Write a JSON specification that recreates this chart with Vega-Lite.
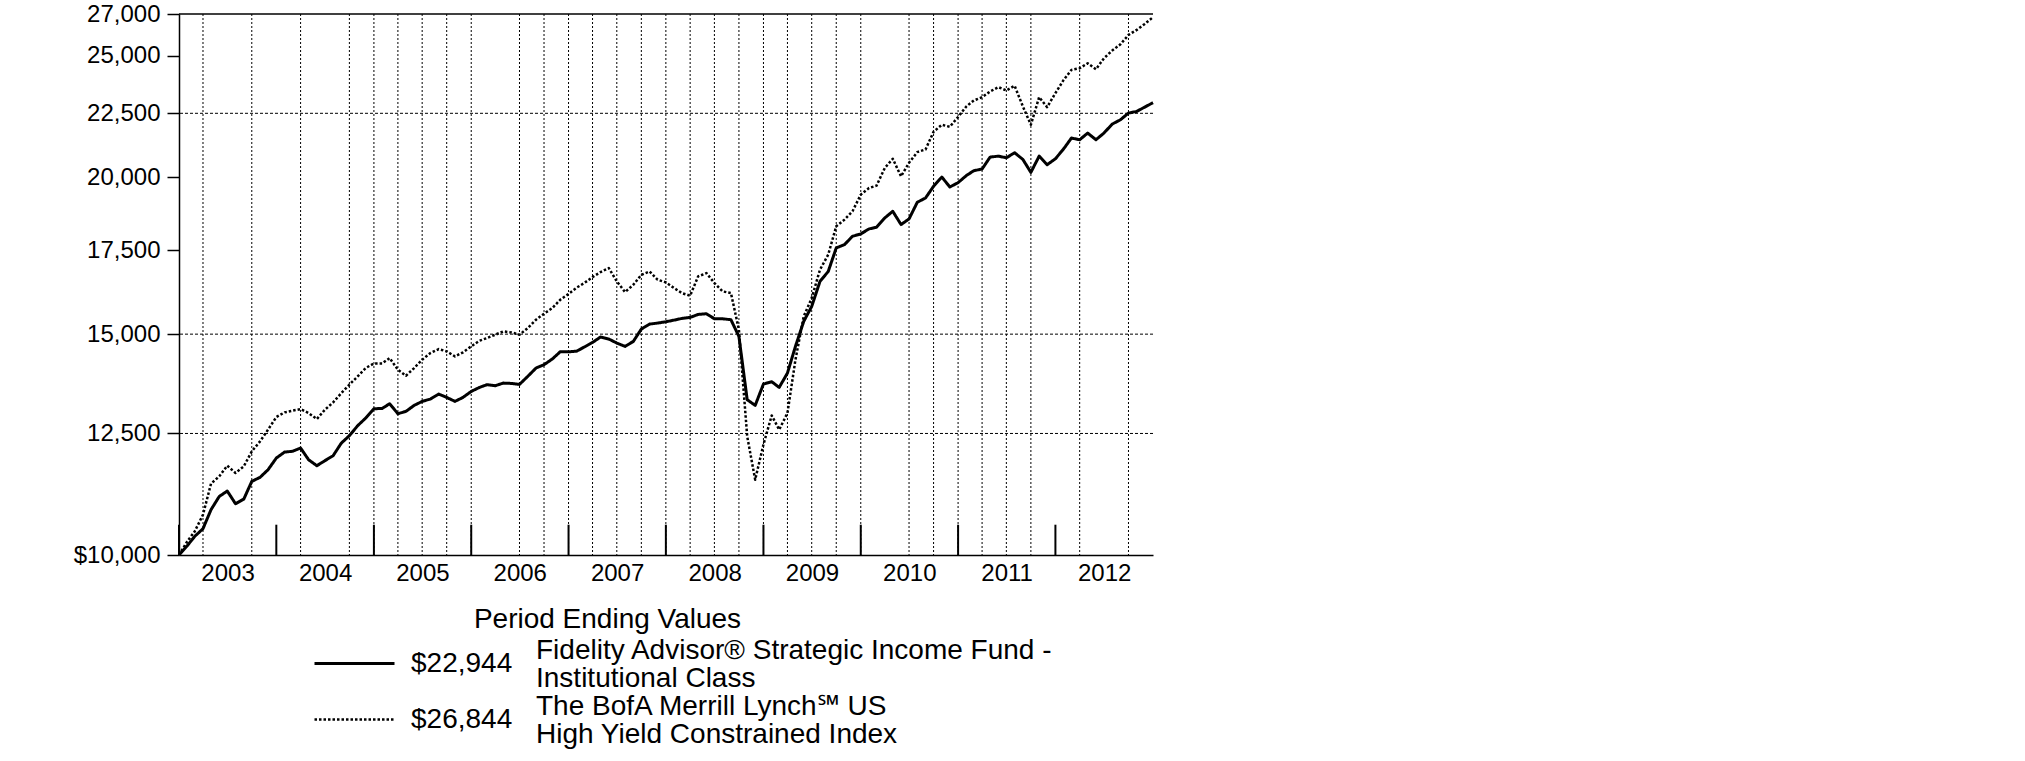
{
  "$schema": "https://vega.github.io/schema/vega-lite/v6.json",
  "width": 974,
  "height": 541,
  "autosize": "none",
  "padding": {"left": 179, "top": 14, "right": 872, "bottom": 206},
  "background": "white",
  "config": {
    "font": "Liberation Sans",
    "view": {"stroke": null},
    "legend": {"labelFont": "Liberation Sans", "labelFontSize": 28, "labelColor": "black", "labelLimit": 1000, "padding": 0}
  },
  "datasets": {
    "meta": [
      {"series": "fund", "name": "Fidelity Advisor® Strategic  Income Fund - Institutional Class", "ending": "$22,944"},
      {"series": "index", "name": "The BofA Merrill Lynch℠ US High Yield Constrained Index", "ending": "$26,844"}
    ],
    "grid": [
      {"date": "2003-03-31"}, {"date": "2003-09-30"}, {"date": "2004-03-31"}, {"date": "2004-09-30"},
      {"date": "2004-12-31"}, {"date": "2005-03-31"}, {"date": "2005-06-30"}, {"date": "2005-09-30"},
      {"date": "2005-12-31"}, {"date": "2006-06-30"}, {"date": "2006-09-30"}, {"date": "2006-12-31"},
      {"date": "2007-03-31"}, {"date": "2007-06-30"}, {"date": "2007-09-30"}, {"date": "2007-12-31"},
      {"date": "2008-03-31"}, {"date": "2008-06-30"}, {"date": "2008-09-30"}, {"date": "2008-12-31"},
      {"date": "2009-03-31"}, {"date": "2009-06-30"}, {"date": "2009-09-30"}, {"date": "2009-12-31"},
      {"date": "2010-06-30"}, {"date": "2010-09-30"}, {"date": "2010-12-31"}, {"date": "2011-03-31"},
      {"date": "2011-06-30"}, {"date": "2011-09-30"}, {"date": "2012-03-31"}, {"date": "2012-09-30"}
    ],
    "yearticks": [
      {"date": "2002-12-31"}, {"date": "2003-12-31"}, {"date": "2004-12-31"}, {"date": "2005-12-31"},
      {"date": "2006-12-31"}, {"date": "2007-12-31"}, {"date": "2008-12-31"}, {"date": "2009-12-31"},
      {"date": "2010-12-31"}, {"date": "2011-12-31"}
    ],
    "hgrid": [{"value": 12500}, {"value": 15000}, {"value": 22500}],
    "frame": [{"value": 27000}],
    "perf": [
      {"date": "2002-12-31", "fund": 10000, "index": 10000},
      {"date": "2003-01-31", "fund": 10172, "index": 10253},
      {"date": "2003-02-28", "fund": 10348, "index": 10443},
      {"date": "2003-03-31", "fund": 10495, "index": 10768},
      {"date": "2003-04-30", "fund": 10867, "index": 11399},
      {"date": "2003-05-31", "fund": 11135, "index": 11553},
      {"date": "2003-06-30", "fund": 11246, "index": 11781},
      {"date": "2003-07-31", "fund": 10987, "index": 11625},
      {"date": "2003-08-31", "fund": 11081, "index": 11767},
      {"date": "2003-09-30", "fund": 11447, "index": 12096},
      {"date": "2003-10-31", "fund": 11532, "index": 12320},
      {"date": "2003-11-30", "fund": 11695, "index": 12587},
      {"date": "2003-12-31", "fund": 11948, "index": 12882},
      {"date": "2004-01-31", "fund": 12081, "index": 12993},
      {"date": "2004-02-29", "fund": 12096, "index": 13032},
      {"date": "2004-03-31", "fund": 12170, "index": 13072},
      {"date": "2004-04-30", "fund": 11912, "index": 12977},
      {"date": "2004-05-31", "fund": 11781, "index": 12835},
      {"date": "2004-06-30", "fund": 11890, "index": 13056},
      {"date": "2004-07-31", "fund": 12000, "index": 13234},
      {"date": "2004-08-31", "fund": 12282, "index": 13462},
      {"date": "2004-09-30", "fund": 12449, "index": 13670},
      {"date": "2004-10-31", "fund": 12679, "index": 13881},
      {"date": "2004-11-30", "fund": 12857, "index": 14095},
      {"date": "2004-12-31", "fund": 13080, "index": 14215},
      {"date": "2005-01-31", "fund": 13088, "index": 14215},
      {"date": "2005-02-28", "fund": 13201, "index": 14356},
      {"date": "2005-03-31", "fund": 12961, "index": 14052},
      {"date": "2005-04-30", "fund": 13017, "index": 13898},
      {"date": "2005-05-31", "fund": 13161, "index": 14095},
      {"date": "2005-06-30", "fund": 13258, "index": 14312},
      {"date": "2005-07-31", "fund": 13315, "index": 14488},
      {"date": "2005-08-31", "fund": 13437, "index": 14595},
      {"date": "2005-09-30", "fund": 13355, "index": 14533},
      {"date": "2005-10-31", "fund": 13258, "index": 14400},
      {"date": "2005-11-30", "fund": 13355, "index": 14506},
      {"date": "2005-12-31", "fund": 13503, "index": 14667},
      {"date": "2006-01-31", "fund": 13603, "index": 14820},
      {"date": "2006-02-28", "fund": 13670, "index": 14893},
      {"date": "2006-03-31", "fund": 13645, "index": 14984},
      {"date": "2006-04-30", "fund": 13711, "index": 15076},
      {"date": "2006-05-31", "fund": 13703, "index": 15048},
      {"date": "2006-06-30", "fund": 13678, "index": 14984},
      {"date": "2006-07-31", "fund": 13881, "index": 15168},
      {"date": "2006-08-31", "fund": 14095, "index": 15402},
      {"date": "2006-09-30", "fund": 14182, "index": 15573},
      {"date": "2006-10-31", "fund": 14330, "index": 15736},
      {"date": "2006-11-30", "fund": 14524, "index": 15979},
      {"date": "2006-12-31", "fund": 14520, "index": 16150},
      {"date": "2007-01-31", "fund": 14540, "index": 16340},
      {"date": "2007-02-28", "fund": 14649, "index": 16475},
      {"date": "2007-03-31", "fund": 14775, "index": 16657},
      {"date": "2007-04-30", "fund": 14920, "index": 16811},
      {"date": "2007-05-31", "fund": 14866, "index": 16935},
      {"date": "2007-06-30", "fund": 14757, "index": 16525},
      {"date": "2007-07-31", "fund": 14667, "index": 16205},
      {"date": "2007-08-31", "fund": 14802, "index": 16424},
      {"date": "2007-09-30", "fund": 15140, "index": 16728},
      {"date": "2007-10-31", "fund": 15280, "index": 16831},
      {"date": "2007-11-30", "fund": 15308, "index": 16576},
      {"date": "2007-12-31", "fund": 15345, "index": 16495},
      {"date": "2008-01-31", "fund": 15392, "index": 16324},
      {"date": "2008-02-29", "fund": 15439, "index": 16175},
      {"date": "2008-03-31", "fund": 15468, "index": 16097},
      {"date": "2008-04-30", "fund": 15553, "index": 16678},
      {"date": "2008-05-31", "fund": 15573, "index": 16780},
      {"date": "2008-06-30", "fund": 15430, "index": 16475},
      {"date": "2008-07-31", "fund": 15430, "index": 16225},
      {"date": "2008-08-31", "fund": 15402, "index": 16175},
      {"date": "2008-09-30", "fund": 14938, "index": 15121},
      {"date": "2008-10-31", "fund": 13299, "index": 12434},
      {"date": "2008-11-30", "fund": 13161, "index": 11482},
      {"date": "2008-12-31", "fund": 13687, "index": 12250},
      {"date": "2009-01-31", "fund": 13745, "index": 12920},
      {"date": "2009-02-28", "fund": 13603, "index": 12587},
      {"date": "2009-03-31", "fund": 13966, "index": 12977},
      {"date": "2009-04-30", "fund": 14667, "index": 14312},
      {"date": "2009-05-31", "fund": 15355, "index": 15497},
      {"date": "2009-06-30", "fund": 15784, "index": 16028},
      {"date": "2009-07-31", "fund": 16525, "index": 16884},
      {"date": "2009-08-31", "fund": 16831, "index": 17360},
      {"date": "2009-09-30", "fund": 17573, "index": 18286},
      {"date": "2009-10-31", "fund": 17681, "index": 18511},
      {"date": "2009-11-30", "fund": 17953, "index": 18796},
      {"date": "2009-12-31", "fund": 18031, "index": 19379},
      {"date": "2010-01-31", "fund": 18197, "index": 19617},
      {"date": "2010-02-28", "fund": 18253, "index": 19701},
      {"date": "2010-03-31", "fund": 18568, "index": 20350},
      {"date": "2010-04-30", "fund": 18796, "index": 20698},
      {"date": "2010-05-31", "fund": 18343, "index": 20040},
      {"date": "2010-06-30", "fund": 18534, "index": 20547},
      {"date": "2010-07-31", "fund": 19109, "index": 20953},
      {"date": "2010-08-31", "fund": 19262, "index": 21055},
      {"date": "2010-09-30", "fund": 19677, "index": 21750},
      {"date": "2010-10-31", "fund": 20015, "index": 22030},
      {"date": "2010-11-30", "fund": 19653, "index": 21950},
      {"date": "2010-12-31", "fund": 19810, "index": 22350},
      {"date": "2011-01-31", "fund": 20070, "index": 22786},
      {"date": "2011-02-28", "fund": 20250, "index": 23036},
      {"date": "2011-03-31", "fund": 20312, "index": 23178},
      {"date": "2011-04-30", "fund": 20761, "index": 23420},
      {"date": "2011-05-31", "fund": 20799, "index": 23607},
      {"date": "2011-06-30", "fund": 20735, "index": 23463},
      {"date": "2011-07-31", "fund": 20928, "index": 23665},
      {"date": "2011-08-31", "fund": 20672, "index": 22786},
      {"date": "2011-09-30", "fund": 20188, "index": 22032},
      {"date": "2011-10-31", "fund": 20799, "index": 23178},
      {"date": "2011-11-30", "fund": 20474, "index": 22758},
      {"date": "2011-12-31", "fund": 20698, "index": 23349},
      {"date": "2012-01-31", "fund": 21080, "index": 23924},
      {"date": "2012-02-29", "fund": 21500, "index": 24366},
      {"date": "2012-03-31", "fund": 21434, "index": 24441},
      {"date": "2012-04-30", "fund": 21698, "index": 24666},
      {"date": "2012-05-31", "fund": 21434, "index": 24396},
      {"date": "2012-06-30", "fund": 21698, "index": 24893},
      {"date": "2012-07-31", "fund": 22059, "index": 25246},
      {"date": "2012-08-31", "fund": 22235, "index": 25541},
      {"date": "2012-09-30", "fund": 22509, "index": 25982},
      {"date": "2012-10-31", "fund": 22578, "index": 26222},
      {"date": "2012-11-30", "fund": 22758, "index": 26512},
      {"date": "2012-12-31", "fund": 22944, "index": 26844}
    ]
  },
  "layer": [
    {
      "data": {"name": "grid"},
      "mark": {"type": "rule", "color": "black", "strokeWidth": 1, "strokeDash": [2, 2]},
      "encoding": {
        "x": {"field": "date", "type": "temporal", "scale": {"type": "utc", "domain": [{"year": 2002, "month": 12, "date": 31, "utc": true}, {"year": 2012, "month": 12, "date": 31, "utc": true}], "nice": false}}
      }
    },
    {
      "data": {"name": "hgrid"},
      "mark": {"type": "rule", "color": "black", "strokeWidth": 1, "strokeDash": [3, 2]},
      "encoding": {
        "y": {"field": "value", "type": "quantitative", "scale": {"type": "log", "domain": [10000, 27000], "nice": false}}
      }
    },
    {
      "data": {"name": "frame"},
      "mark": {"type": "rule", "color": "black", "strokeWidth": 1.5},
      "encoding": {
        "y": {"field": "value", "type": "quantitative", "scale": {"type": "log", "domain": [10000, 27000], "nice": false}}
      }
    },
    {
      "data": {"name": "yearticks"},
      "mark": {"type": "rule", "color": "black", "strokeWidth": 2},
      "encoding": {
        "x": {"field": "date", "type": "temporal", "scale": {"type": "utc", "domain": [{"year": 2002, "month": 12, "date": 31, "utc": true}, {"year": 2012, "month": 12, "date": 31, "utc": true}], "nice": false}},
        "y": {"datum": 10000, "type": "quantitative", "scale": {"type": "log", "domain": [10000, 27000], "nice": false}},
        "y2": {"datum": 10572}
      }
    },
    {
      "data": {"name": "perf"},
      "transform": [
        {"fold": ["fund", "index"], "as": ["series", "value"]},
        {"lookup": "series", "from": {"data": {"name": "meta"}, "key": "series", "fields": ["name", "ending"]}}
      ],
      "mark": {"type": "line", "interpolate": "linear", "strokeJoin": "round"},
      "encoding": {
        "x": {
          "field": "date", "type": "temporal",
          "scale": {"type": "utc", "domain": [{"year": 2002, "month": 12, "date": 31, "utc": true}, {"year": 2012, "month": 12, "date": 31, "utc": true}], "nice": false},
          "axis": {
            "values": [
              {"year": 2003, "month": 7, "date": 1, "utc": true}, {"year": 2004, "month": 7, "date": 1, "utc": true},
              {"year": 2005, "month": 7, "date": 1, "utc": true}, {"year": 2006, "month": 7, "date": 1, "utc": true},
              {"year": 2007, "month": 7, "date": 1, "utc": true}, {"year": 2008, "month": 7, "date": 1, "utc": true},
              {"year": 2009, "month": 7, "date": 1, "utc": true}, {"year": 2010, "month": 7, "date": 1, "utc": true},
              {"year": 2011, "month": 7, "date": 1, "utc": true}, {"year": 2012, "month": 7, "date": 1, "utc": true}
            ],
            "labelExpr": "utcFormat(datum.value, '%Y')",
            "ticks": false, "tickSize": 0, "labelPadding": 6,
            "labelFont": "Liberation Sans", "labelFontSize": 24, "labelColor": "black",
            "labelFlush": false, "labelOverlap": false, "grid": false,
            "domainColor": "black", "domainWidth": 1.5,
            "title": "Period Ending Values", "titleFont": "Liberation Sans", "titleFontSize": 28, "titleFontWeight": "normal", "titleColor": "black",
            "titleX": 428, "titleY": 72, "titleAlign": "center", "titleBaseline": "alphabetic"
          }
        },
        "y": {
          "field": "value", "type": "quantitative",
          "scale": {"type": "log", "domain": [10000, 27000], "nice": false},
          "axis": {
            "values": [10000, 12500, 15000, 17500, 20000, 22500, 25000, 27000],
            "labelExpr": "datum.value == 10000 ? '$10,000' : format(datum.value, ',')",
            "title": null, "grid": false,
            "labelFont": "Liberation Sans", "labelFontSize": 24, "labelColor": "black", "labelPadding": 7, "labelOverlap": false,
            "tickColor": "black", "tickSize": 12, "tickWidth": 1.5,
            "domainColor": "black", "domainWidth": 1.5
          }
        },
        "strokeDash": {
          "field": "ending", "type": "ordinal",
          "scale": {"domain": ["$22,944", "$26,844"], "range": [[1, 0], [2.5, 2]]},
          "legend": {"orient": "none", "legendX": 134, "legendY": 608, "title": null, "symbolType": "stroke", "symbolSize": 6400, "symbolStrokeColor": "black", "labelOffset": 15, "rowPadding": -28}
        },
        "strokeWidth": {
          "field": "ending", "type": "ordinal",
          "scale": {"domain": ["$22,944", "$26,844"], "range": [3, 2.5]},
          "legend": {"orient": "none", "legendX": 134, "legendY": 608, "title": null, "symbolType": "stroke", "symbolSize": 6400, "symbolStrokeColor": "black", "labelOffset": 15, "rowPadding": -28}
        },
        "color": {
          "field": "name", "type": "nominal",
          "scale": {"range": ["#000000", "#000000"]},
          "legend": {
            "orient": "none", "legendX": 329, "legendY": 623, "title": null,
            "symbolType": "stroke", "symbolSize": 0, "symbolOpacity": 0, "symbolStrokeWidth": 0, "labelOffset": 0,
            "rowPadding": -1,
            "encode": {"labels": {"update": {"lineHeight": {"value": 28}}}},
            "labelExpr": "indexof(datum.label, ' - ') > 0 ? [substring(datum.label, 0, indexof(datum.label, ' - ') + 2), substring(datum.label, indexof(datum.label, ' - ') + 3)] : [substring(datum.label, 0, indexof(datum.label, ' US') + 3), substring(datum.label, indexof(datum.label, ' US') + 4)]"
          }
        }
      }
    }
  ]
}
